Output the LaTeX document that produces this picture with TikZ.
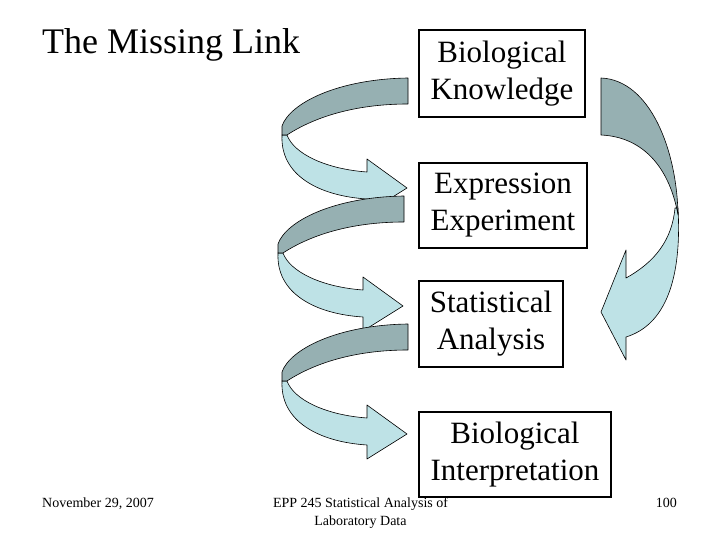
\documentclass[tikz,border=0pt]{standalone}
\usepackage{fontspec}
\setmainfont{Liberation Serif}
\definecolor{ribdark}{RGB}{150,176,178}
\definecolor{riblight}{RGB}{190,226,230}
\tikzset{
  stagebox/.style={draw, line width=2.5pt, align=center, inner sep=0pt,
    font=\fontsize{31}{37}\selectfont},
  ribdarkfill/.style={fill=ribdark, draw=black, line width=0.6pt, line join=round},
  riblightfill/.style={fill=riblight, draw=black, line width=0.6pt, line join=round},
  footer/.style={inner sep=0pt, font=\fontsize{14}{18}\selectfont, align=center},
  spiral/.pic={
    \path[riblightfill] (-126,57) .. controls (-128,98) and (-88,118) .. (-41,121)
      -- (-41,135) -- (-1,110) -- (-41,81) -- (-41,94)
      .. controls (-82,91) and (-114,76) .. (-121,57) -- cycle;
    \path[ribdarkfill] (0,0) .. controls (-70,1) and (-118,25) .. (-126,48)
      -- (-126,57) -- (-121,57) .. controls (-95,40) and (-55,26) .. (0,26) -- cycle;
  }
}
\begin{document}
\begin{tikzpicture}[x=1pt,y=-1pt]
\useasboundingbox (0,0) rectangle (720,540);
\fill[white] (0,0) rectangle (720,540);

% title
\node[anchor=base west, inner sep=0pt, font=\fontsize{36}{43}\selectfont] (title) at (42,54) {The Missing Link};

% boxes
\node[stagebox, minimum width=166pt, minimum height=87pt] (bk) at (502,73.5) {Biological\\Knowledge};
\node[stagebox, minimum width=168pt, minimum height=85pt] (ee) at (503,205.5) {Expression\\Experiment};
\node[stagebox, minimum width=144pt, minimum height=86pt] (sa) at (491,324) {Statistical\\Analysis};
\node[stagebox, minimum width=192pt, minimum height=85pt] (bi) at (515,454.5) {Biological\\Interpretation};

% left spirals
\pic at (408,78) {spiral};
\pic at (404,196) {spiral};
\pic at (408,324) {spiral};

% right return arrow
\path[riblightfill] (678,208) .. controls (682,280) and (665,325) .. (626,337)
  -- (626,360) -- (601,312) -- (626,250) -- (626,278)
  .. controls (655,262) and (672,240) .. (675,208) -- cycle;
\path[ribdarkfill] (601,78) .. controls (650,80) and (677,150) .. (678,215)
  .. controls (670,170) and (645,137) .. (601,135) -- cycle;

% footer
\node[footer, anchor=base west] (date) at (42,507) {November 29, 2007};
\node[footer, anchor=base] (course1) at (360.5,507) {EPP 245 Statistical Analysis of};
\node[footer, anchor=base] (course2) at (360.5,525) {Laboratory Data};
\node[footer, anchor=base east] (page) at (677,507) {100};
\end{tikzpicture}
\end{document}
